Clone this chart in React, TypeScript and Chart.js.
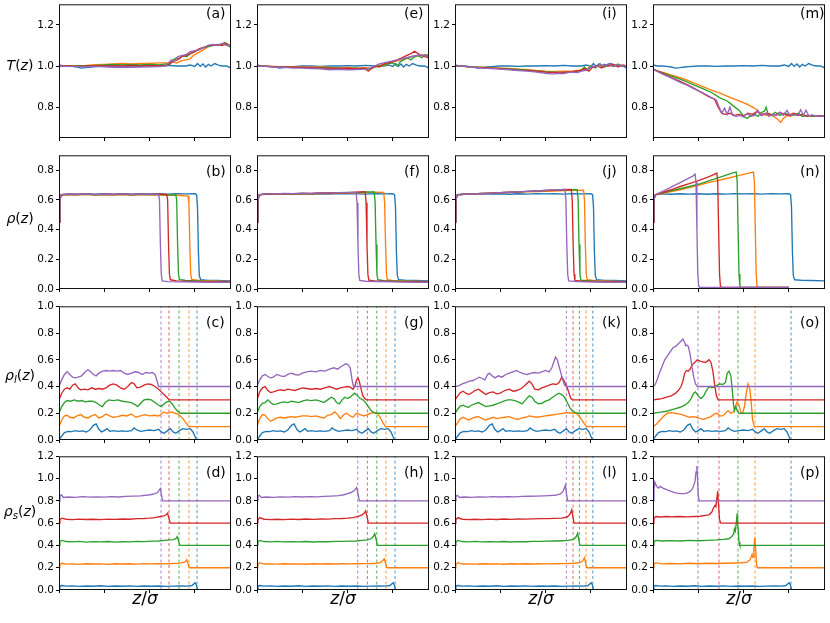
import React, { useEffect, useRef } from 'react';
import { Chart, registerables } from 'chart.js';

Chart.register(...registerables);

type P = [number, number][];

// ================= DATA (z/sigma, value) =================
// ---- Row 1 : T(z) ----
const BLUE_T: P = [[0,1.005],[5,1.0],[10,1.0],[15,0.998],[20,0.995],[25,0.99],[30,0.992],[35,0.995],[40,0.997],[50,1.0],[60,1.0],[70,0.998],[80,1.0],[90,1.0],[100,1.002],[110,1.0],[120,1.003],[130,1.0],[140,1.0],[145,1.005],[150,0.998],[153,1.012],[156,0.998],[159,1.01],[162,0.995],[165,1.008],[168,1.0],[172,1.012],[176,1.004],[180,1.0],[185,1.0],[190,0.99]];

const A_ORANGE: P = [[0,1.0],[10,1.0],[20,1.002],[30,1.003],[40,1.006],[50,1.008],[60,1.01],[70,1.012],[80,1.01],[90,1.013],[100,1.012],[110,1.015],[120,1.016],[125,1.02],[130,1.015],[135,1.025],[140,1.03],[145,1.035],[148,1.05],[152,1.06],[156,1.07],[160,1.08],[165,1.095],[170,1.1],[175,1.1],[180,1.105],[185,1.1],[190,1.1]];
const A_GREEN: P = [[0,1.0],[10,1.0],[20,1.0],[30,1.002],[40,1.003],[50,1.005],[60,1.008],[70,1.005],[80,1.008],[90,1.005],[100,1.008],[110,1.005],[118,1.01],[122,1.005],[126,1.03],[130,1.04],[133,1.035],[137,1.05],[141,1.045],[145,1.06],[150,1.07],[155,1.08],[160,1.09],[165,1.095],[170,1.1],[175,1.1],[180,1.105],[183,1.115],[186,1.1],[190,1.09]];
const A_RED: P = [[0,1.0],[10,1.0],[20,0.998],[30,1.0],[40,1.0],[50,1.0],[60,1.002],[70,1.0],[80,1.003],[90,1.0],[100,1.002],[110,1.0],[118,1.003],[122,1.01],[127,1.025],[131,1.03],[135,1.045],[140,1.05],[145,1.06],[150,1.07],[155,1.085],[160,1.09],[165,1.1],[170,1.1],[175,1.105],[180,1.1],[185,1.11],[190,1.095]];
const A_PURPLE: P = [[0,1.0],[10,0.998],[20,0.997],[30,0.996],[40,0.998],[50,0.996],[60,0.994],[70,0.995],[80,0.993],[90,0.995],[100,0.996],[110,0.997],[118,1.0],[121,1.015],[124,1.03],[127,1.02],[131,1.045],[135,1.05],[140,1.055],[145,1.07],[150,1.075],[155,1.08],[160,1.09],[165,1.1],[170,1.105],[175,1.1],[180,1.11],[185,1.1],[190,1.1]];

const E_ORANGE: P = [[0,1.0],[10,1.0],[20,0.998],[30,0.996],[40,0.995],[50,0.995],[60,0.994],[70,0.995],[80,0.993],[90,0.992],[100,0.993],[110,0.99],[120,0.992],[126,0.99],[130,0.998],[135,1.005],[140,1.0],[145,1.012],[150,1.02],[155,1.025],[160,1.03],[165,1.035],[170,1.045],[175,1.05],[180,1.05],[185,1.055],[190,1.05]];
const E_GREEN: P = [[0,1.0],[10,0.998],[20,0.995],[30,0.995],[40,0.993],[50,0.994],[60,0.99],[70,0.992],[80,0.99],[90,0.99],[100,0.988],[110,0.99],[120,0.987],[125,0.985],[130,0.995],[135,1.0],[140,1.005],[145,1.01],[150,1.015],[155,1.0],[158,1.02],[162,1.03],[166,1.04],[170,1.03],[174,1.045],[178,1.05],[182,1.04],[186,1.055],[190,1.05]];
const E_RED: P = [[0,1.0],[10,0.998],[20,0.996],[30,0.995],[40,0.994],[50,0.993],[60,0.992],[70,0.99],[80,0.99],[90,0.988],[100,0.99],[110,0.986],[118,0.99],[123,0.975],[127,0.99],[131,1.0],[135,0.995],[140,1.01],[145,1.015],[150,1.02],[155,1.03],[160,1.04],[165,1.05],[170,1.06],[174,1.072],[178,1.06],[182,1.05],[186,1.045],[190,1.04]];
const E_PURPLE: P = [[0,1.0],[10,0.998],[20,0.995],[30,0.993],[40,0.99],[50,0.99],[60,0.988],[70,0.986],[80,0.982],[90,0.984],[100,0.982],[110,0.983],[120,0.985],[125,0.99],[130,1.0],[135,1.01],[140,1.015],[145,1.02],[150,1.025],[155,1.03],[160,1.035],[165,1.04],[170,1.045],[175,1.05],[180,1.055],[185,1.05],[190,1.045]];

const I_ORANGE: P = [[0,1.0],[10,0.998],[20,0.995],[30,0.994],[40,0.992],[50,0.99],[60,0.988],[70,0.985],[80,0.982],[90,0.978],[100,0.975],[110,0.974],[120,0.975],[130,0.976],[138,0.98],[143,0.99],[146,0.985],[150,1.0],[155,0.995],[160,1.005],[165,0.995],[170,1.005],[175,1.0],[180,1.01],[185,0.998],[190,1.0]];
const I_GREEN: P = [[0,1.0],[10,0.998],[20,0.995],[30,0.993],[40,0.99],[50,0.988],[60,0.986],[70,0.983],[80,0.98],[90,0.976],[100,0.972],[110,0.97],[120,0.968],[128,0.97],[135,0.975],[140,0.98],[143,0.995],[146,0.98],[150,1.0],[155,0.99],[160,1.01],[165,0.995],[170,1.005],[175,0.998],[180,1.008],[185,1.0],[190,0.998]];
const I_RED: P = [[0,1.0],[10,0.998],[20,0.994],[30,0.992],[40,0.99],[50,0.987],[60,0.984],[70,0.98],[80,0.978],[90,0.975],[100,0.97],[110,0.968],[120,0.97],[130,0.972],[138,0.978],[144,0.985],[148,0.975],[152,0.995],[157,1.0],[162,0.99],[166,1.005],[170,1.0],[175,1.008],[180,0.995],[185,1.005],[190,1.0]];
const I_PURPLE: P = [[0,1.0],[10,0.998],[20,0.994],[30,0.99],[40,0.988],[50,0.985],[60,0.982],[70,0.978],[80,0.975],[90,0.97],[100,0.965],[105,0.962],[110,0.962],[115,0.965],[120,0.963],[125,0.968],[130,0.97],[135,0.968],[140,0.975],[145,0.98],[149,0.99],[152,1.0],[156,0.995],[160,1.01],[165,1.0],[170,1.012],[175,0.998],[180,1.005],[185,1.0],[190,0.998]];

const M_ORANGE: P = [[0,0.984],[10,0.97],[20,0.957],[30,0.943],[37,0.932],[45,0.918],[55,0.9],[65,0.882],[74,0.868],[85,0.848],[95,0.83],[105,0.812],[110,0.8],[114,0.79],[117,0.775],[120,0.77],[125,0.76],[130,0.765],[135,0.75],[138,0.74],[141,0.726],[144,0.745],[148,0.76],[152,0.755],[156,0.77],[160,0.76],[165,0.765],[170,0.755],[175,0.76],[180,0.755],[185,0.758],[190,0.755]];
const M_GREEN: P = [[0,0.984],[10,0.968],[20,0.952],[30,0.936],[37,0.924],[45,0.908],[55,0.89],[65,0.87],[74,0.845],[82,0.83],[89,0.805],[95,0.785],[101,0.752],[104,0.745],[108,0.76],[112,0.765],[116,0.755],[120,0.775],[123,0.78],[125,0.8],[127,0.77],[131,0.76],[135,0.775],[140,0.76],[145,0.77],[150,0.765],[155,0.76],[160,0.77],[165,0.755],[170,0.76],[175,0.755],[180,0.757],[185,0.755],[190,0.755]];
const M_RED: P = [[0,0.984],[10,0.965],[20,0.945],[30,0.925],[40,0.905],[50,0.88],[60,0.855],[68,0.838],[72,0.8],[76,0.77],[80,0.765],[85,0.77],[90,0.76],[95,0.765],[100,0.758],[105,0.77],[110,0.765],[115,0.78],[120,0.76],[125,0.77],[130,0.765],[135,0.76],[140,0.775],[145,0.765],[150,0.76],[155,0.77],[160,0.76],[165,0.765],[170,0.755],[175,0.76],[180,0.755],[185,0.758],[190,0.755]];
const M_PURPLE: P = [[0,0.984],[10,0.962],[20,0.942],[30,0.92],[37,0.908],[45,0.89],[55,0.87],[63,0.85],[70,0.835],[73,0.8],[76,0.77],[79,0.795],[82,0.765],[85,0.8],[88,0.76],[92,0.755],[96,0.76],[100,0.752],[104,0.77],[108,0.755],[112,0.76],[116,0.785],[119,0.76],[124,0.77],[128,0.755],[132,0.765],[136,0.758],[140,0.775],[144,0.76],[148,0.785],[151,0.76],[155,0.765],[160,0.758],[163,0.787],[166,0.76],[169,0.785],[172,0.758],[176,0.762],[180,0.755],[185,0.755],[190,0.757]];

// ---- Row 2 : rho(z) ----
const BLUE_RHO: P = [[0,0.45],[1,0.6],[2.5,0.636],[10,0.64],[20,0.638],[30,0.641],[40,0.639],[50,0.641],[60,0.638],[70,0.641],[80,0.639],[90,0.642],[100,0.64],[110,0.641],[120,0.639],[130,0.642],[140,0.64],[150,0.641],[152,0.635],[153,0.55],[154,0.25],[155,0.09],[156.5,0.062],[165,0.058],[175,0.057],[190,0.055]];

const B_ORANGE: P = [[0,0.45],[1,0.6],[2.5,0.632],[10,0.636],[20,0.634],[30,0.637],[40,0.633],[50,0.636],[60,0.632],[70,0.635],[80,0.633],[90,0.636],[100,0.632],[110,0.634],[120,0.63],[130,0.631],[138,0.628],[142.5,0.627],[143.5,0.58],[144.5,0.3],[145.5,0.1],[146.5,0.065],[155,0.058],[170,0.055],[190,0.05]];
const B_GREEN: P = [[0,0.45],[1,0.6],[2.5,0.633],[10,0.637],[20,0.635],[30,0.638],[40,0.634],[50,0.637],[60,0.635],[70,0.638],[80,0.634],[90,0.637],[100,0.635],[110,0.636],[120,0.634],[129,0.633],[130,0.6],[131,0.3],[132,0.1],[133,0.065],[140,0.057],[160,0.052],[190,0.048]];
const B_RED: P = [[0,0.45],[1,0.6],[2.5,0.634],[10,0.638],[20,0.636],[30,0.639],[40,0.635],[50,0.638],[60,0.636],[70,0.639],[80,0.636],[90,0.638],[100,0.637],[110,0.638],[119,0.636],[120,0.6],[121,0.3],[122,0.1],[123,0.062],[130,0.055],[160,0.05],[190,0.047]];
const B_PURPLE: P = [[0,0.45],[1,0.6],[2.5,0.635],[10,0.639],[20,0.637],[30,0.64],[40,0.636],[50,0.639],[60,0.637],[70,0.64],[80,0.637],[90,0.639],[100,0.638],[110,0.637],[111,0.6],[112,0.3],[113,0.1],[114,0.055],[120,0.05],[150,0.047],[190,0.045]];

const F_ORANGE: P = [[0,0.45],[1,0.6],[2.5,0.634],[10,0.638],[20,0.637],[30,0.64],[40,0.639],[50,0.642],[60,0.641],[70,0.644],[80,0.643],[90,0.646],[100,0.645],[110,0.648],[120,0.649],[130,0.652],[140,0.651],[141,0.58],[142,0.3],[143,0.1],[144,0.062],[150,0.056],[170,0.052],[190,0.05]];
const F_GREEN: P = [[0,0.45],[1,0.6],[2.5,0.634],[10,0.639],[20,0.638],[30,0.641],[40,0.64],[50,0.643],[60,0.642],[70,0.645],[80,0.645],[90,0.647],[100,0.647],[110,0.65],[120,0.653],[129.5,0.654],[130.5,0.58],[131.5,0.3],[132.5,0.1],[133.5,0.062],[140,0.056],[160,0.052],[190,0.048]];
const F_RED: P = [[0,0.45],[1,0.6],[2.5,0.634],[10,0.64],[20,0.639],[30,0.642],[40,0.641],[50,0.644],[60,0.643],[70,0.646],[80,0.646],[90,0.648],[100,0.648],[110,0.652],[119.5,0.655],[120.5,0.58],[121.5,0.3],[122.5,0.1],[123.5,0.06],[130,0.055],[160,0.05],[190,0.047]];
const F_PURPLE: P = [[0,0.45],[1,0.6],[2.5,0.635],[10,0.64],[20,0.64],[30,0.643],[40,0.642],[50,0.645],[60,0.644],[70,0.647],[80,0.647],[90,0.649],[100,0.65],[109.5,0.652],[110.5,0.58],[111.5,0.3],[112.5,0.1],[113.5,0.058],[120,0.052],[150,0.048],[190,0.045]];

const J_ORANGE: P = [[0,0.45],[1,0.6],[2.5,0.634],[10,0.638],[20,0.64],[30,0.642],[40,0.644],[50,0.647],[60,0.649],[70,0.652],[80,0.654],[90,0.656],[100,0.658],[110,0.66],[120,0.662],[130,0.664],[142,0.665],[143,0.6],[144,0.3],[145,0.1],[146,0.062],[155,0.056],[170,0.053],[190,0.05]];
const J_GREEN: P = [[0,0.45],[1,0.6],[2.5,0.634],[10,0.638],[20,0.64],[30,0.643],[40,0.645],[50,0.648],[60,0.651],[70,0.654],[80,0.657],[90,0.66],[100,0.663],[110,0.665],[120,0.667],[130,0.668],[135,0.669],[136,0.6],[137,0.3],[138,0.1],[139,0.06],[150,0.054],[170,0.05],[190,0.048]];
const J_RED: P = [[0,0.45],[1,0.6],[2.5,0.634],[10,0.638],[20,0.64],[30,0.643],[40,0.645],[50,0.648],[60,0.651],[70,0.654],[80,0.657],[90,0.66],[100,0.663],[110,0.666],[120,0.668],[128.5,0.67],[129.5,0.6],[130.5,0.3],[131.5,0.1],[132.5,0.058],[140,0.052],[165,0.049],[190,0.047]];
const J_PURPLE: P = [[0,0.45],[1,0.6],[2.5,0.634],[10,0.638],[20,0.64],[30,0.643],[40,0.645],[50,0.648],[60,0.651],[70,0.654],[80,0.657],[90,0.66],[100,0.664],[110,0.667],[118,0.67],[121.5,0.672],[122.5,0.6],[123.5,0.3],[124.5,0.1],[125.5,0.055],[135,0.05],[160,0.047],[190,0.045]];

const N_ORANGE: P = [[0,0.45],[1,0.6],[2.5,0.634],[10,0.642],[20,0.655],[30,0.668],[40,0.682],[50,0.698],[60,0.714],[70,0.728],[80,0.742],[90,0.757],[100,0.772],[107,0.782],[111,0.787],[112,0.72],[113,0.4],[114,0.1],[115,0.018],[116.5,0.01],[150,0.01]];
const N_GREEN: P = [[0,0.45],[1,0.6],[2.5,0.634],[10,0.645],[20,0.66],[30,0.675],[40,0.69],[50,0.705],[60,0.725],[70,0.745],[80,0.765],[88,0.782],[92,0.787],[93,0.72],[94,0.4],[95,0.1],[96,0.018],[97.5,0.01],[150,0.01]];
const N_RED: P = [[0,0.45],[1,0.6],[2.5,0.634],[10,0.648],[20,0.668],[30,0.69],[40,0.71],[50,0.73],[60,0.752],[67,0.77],[70.5,0.78],[71.5,0.72],[72.5,0.4],[73.5,0.1],[74.5,0.018],[76,0.01],[150,0.01]];
const N_PURPLE: P = [[0,0.45],[1,0.6],[2.5,0.634],[10,0.656],[20,0.686],[30,0.716],[40,0.748],[44,0.76],[46.5,0.773],[47.5,0.72],[48.5,0.4],[49.5,0.1],[50.5,0.018],[52,0.01],[150,0.01]];

// ---- Row 3 : rho_l(z) (shifted by 0.1 per curve) ----
const BLUE_RL: P = [[0,0],[3,0.03],[6,0.055],[10,0.065],[14,0.063],[18,0.07],[22,0.065],[26,0.068],[30,0.06],[34,0.075],[38,0.11],[41,0.12],[44,0.08],[47,0.06],[50,0.07],[53,0.085],[56,0.065],[60,0.07],[65,0.065],[70,0.068],[75,0.065],[80,0.07],[83,0.09],[86,0.075],[90,0.065],[95,0.07],[100,0.075],[105,0.07],[110,0.08],[113,0.06],[116,0.05],[120,0.07],[123,0.085],[126,0.06],[129,0.05],[133,0.07],[137,0.085],[141,0.08],[145,0.085],[148,0.06],[150,0.03],[152,0]];

const C_ORANGE: P = [[0,0.1],[3,0.15],[6,0.18],[9,0.185],[12,0.17],[16,0.165],[20,0.18],[24,0.19],[28,0.17],[32,0.165],[36,0.18],[40,0.19],[44,0.165],[48,0.175],[52,0.195],[56,0.18],[60,0.17],[65,0.175],[70,0.185],[75,0.18],[80,0.195],[85,0.17],[90,0.18],[95,0.19],[100,0.18],[105,0.185],[110,0.18],[113,0.195],[116,0.21],[119,0.2],[122,0.205],[125,0.21],[128,0.2],[131,0.195],[134,0.18],[137,0.16],[140,0.13],[143,0.105],[145,0.1],[190,0.1]];
const C_GREEN: P = [[0,0.2],[3,0.25],[6,0.28],[9,0.295],[13,0.29],[17,0.3],[21,0.29],[25,0.295],[29,0.285],[33,0.29],[37,0.29],[41,0.28],[45,0.26],[48,0.25],[51,0.28],[55,0.3],[60,0.295],[65,0.3],[70,0.29],[75,0.285],[80,0.28],[84,0.265],[87,0.25],[90,0.275],[94,0.3],[98,0.305],[102,0.3],[106,0.28],[110,0.26],[113,0.25],[116,0.27],[119,0.285],[122,0.29],[125,0.27],[128,0.24],[131,0.215],[134,0.2],[190,0.2]];
const C_RED: P = [[0,0.3],[3,0.35],[6,0.38],[9,0.39],[12,0.38],[15,0.41],[18,0.42],[21,0.39],[24,0.375],[28,0.38],[32,0.375],[36,0.39],[40,0.38],[44,0.385],[48,0.38],[52,0.39],[56,0.41],[60,0.42],[64,0.41],[68,0.39],[72,0.38],[76,0.4],[80,0.43],[83,0.42],[86,0.39],[90,0.395],[94,0.41],[98,0.42],[102,0.415],[106,0.4],[110,0.38],[113,0.36],[116,0.34],[119,0.32],[122,0.3],[190,0.3]];
const C_PURPLE: P = [[0,0.4],[3,0.45],[6,0.49],[9,0.51],[12,0.49],[15,0.47],[18,0.465],[21,0.47],[25,0.48],[29,0.51],[32,0.525],[35,0.51],[38,0.49],[41,0.48],[44,0.5],[48,0.515],[52,0.52],[56,0.515],[60,0.52],[64,0.515],[68,0.52],[72,0.5],[76,0.49],[80,0.5],[84,0.51],[88,0.505],[92,0.49],[96,0.505],[100,0.5],[103,0.505],[106,0.49],[108,0.45],[110,0.4],[190,0.4]];

const G_ORANGE: P = [[0,0.1],[3,0.16],[6,0.19],[9,0.185],[12,0.16],[15,0.14],[18,0.15],[22,0.165],[26,0.17],[30,0.165],[34,0.17],[38,0.175],[42,0.17],[46,0.175],[50,0.18],[55,0.18],[60,0.175],[65,0.18],[70,0.17],[74,0.165],[78,0.185],[82,0.19],[86,0.21],[89,0.19],[92,0.16],[96,0.19],[99,0.2],[103,0.18],[106,0.17],[110,0.2],[114,0.19],[118,0.18],[122,0.19],[126,0.2],[130,0.205],[133,0.2],[136,0.17],[139,0.13],[142,0.1],[190,0.1]];
const G_GREEN: P = [[0,0.2],[3,0.25],[6,0.275],[9,0.28],[12,0.3],[15,0.28],[18,0.265],[22,0.27],[26,0.28],[30,0.285],[34,0.28],[38,0.29],[42,0.285],[46,0.28],[50,0.29],[55,0.3],[60,0.295],[65,0.3],[70,0.29],[74,0.28],[78,0.3],[82,0.32],[85,0.31],[88,0.28],[91,0.27],[94,0.3],[97,0.32],[100,0.31],[103,0.32],[106,0.34],[108,0.35],[111,0.33],[114,0.31],[117,0.3],[120,0.28],[123,0.25],[126,0.22],[129,0.205],[132,0.2],[190,0.2]];
const G_RED: P = [[0,0.3],[3,0.36],[6,0.39],[9,0.4],[12,0.37],[15,0.355],[18,0.36],[22,0.37],[26,0.375],[30,0.37],[34,0.38],[38,0.375],[42,0.37],[46,0.38],[50,0.39],[55,0.385],[60,0.38],[65,0.385],[70,0.38],[75,0.39],[80,0.4],[84,0.39],[88,0.38],[92,0.39],[96,0.395],[100,0.4],[103,0.395],[106,0.38],[108,0.4],[110,0.45],[111.5,0.465],[113,0.44],[115,0.38],[117,0.33],[119,0.31],[121,0.3],[190,0.3]];
const G_PURPLE: P = [[0,0.4],[3,0.45],[6,0.48],[9,0.49],[12,0.475],[15,0.465],[18,0.47],[22,0.49],[26,0.48],[30,0.475],[34,0.49],[38,0.5],[42,0.49],[46,0.485],[50,0.5],[55,0.51],[60,0.515],[65,0.51],[70,0.52],[75,0.515],[80,0.53],[85,0.54],[89,0.53],[93,0.55],[97,0.565],[99,0.57],[101,0.56],[103,0.54],[105,0.45],[106.5,0.4],[190,0.4]];

const K_ORANGE: P = [[0,0.1],[3,0.13],[6,0.16],[9,0.17],[12,0.16],[15,0.15],[18,0.16],[22,0.17],[26,0.175],[30,0.16],[34,0.15],[38,0.16],[42,0.17],[46,0.16],[50,0.165],[55,0.17],[60,0.175],[65,0.16],[70,0.155],[74,0.165],[78,0.17],[82,0.18],[86,0.175],[90,0.17],[95,0.175],[100,0.18],[105,0.185],[110,0.19],[115,0.195],[120,0.2],[125,0.205],[130,0.2],[134,0.2],[137,0.18],[140,0.15],[143,0.12],[146,0.1],[190,0.1]];
const K_GREEN: P = [[0,0.2],[3,0.23],[6,0.255],[9,0.26],[12,0.25],[15,0.245],[18,0.26],[22,0.27],[26,0.28],[30,0.265],[34,0.25],[38,0.255],[42,0.26],[46,0.27],[50,0.28],[54,0.29],[58,0.3],[62,0.3],[66,0.295],[70,0.285],[74,0.27],[78,0.3],[82,0.33],[85,0.32],[88,0.29],[92,0.27],[96,0.275],[100,0.29],[104,0.3],[108,0.32],[112,0.34],[115,0.35],[118,0.34],[121,0.32],[124,0.28],[127,0.24],[130,0.215],[133,0.205],[136,0.2],[190,0.2]];
const K_RED: P = [[0,0.3],[3,0.33],[6,0.355],[9,0.365],[12,0.35],[15,0.34],[18,0.35],[22,0.37],[26,0.38],[30,0.36],[34,0.34],[38,0.355],[42,0.36],[46,0.345],[50,0.35],[55,0.37],[60,0.38],[64,0.365],[68,0.37],[72,0.38],[76,0.4],[79,0.42],[82,0.44],[85,0.42],[88,0.38],[92,0.375],[96,0.39],[100,0.4],[104,0.41],[108,0.42],[112,0.415],[115,0.43],[118,0.47],[120,0.45],[122,0.42],[124,0.39],[126,0.35],[128,0.31],[130,0.3],[190,0.3]];
const K_PURPLE: P = [[0,0.4],[4,0.405],[8,0.42],[12,0.43],[16,0.44],[20,0.445],[24,0.46],[27,0.47],[30,0.46],[33,0.45],[36,0.49],[38,0.5],[41,0.48],[44,0.465],[48,0.48],[52,0.47],[56,0.49],[60,0.5],[64,0.51],[68,0.52],[72,0.505],[76,0.495],[80,0.49],[84,0.5],[88,0.505],[92,0.5],[96,0.51],[100,0.52],[104,0.51],[107,0.54],[109,0.58],[111,0.62],[113,0.6],[115,0.55],[117,0.5],[119,0.45],[121,0.41],[123,0.4],[190,0.4]];

const O_ORANGE: P = [[0,0.1],[4,0.12],[8,0.15],[12,0.18],[16,0.2],[20,0.205],[24,0.2],[28,0.195],[32,0.19],[36,0.18],[40,0.17],[44,0.175],[48,0.17],[52,0.16],[56,0.155],[60,0.165],[64,0.175],[68,0.195],[71,0.2],[74,0.18],[77,0.18],[80,0.2],[83,0.22],[86,0.2],[89,0.21],[91,0.25],[93,0.285],[95,0.26],[97,0.21],[99,0.2],[101,0.25],[103,0.35],[105,0.42],[107,0.38],[108.5,0.28],[110,0.15],[112,0.1],[190,0.1]];
const O_GREEN: P = [[0,0.2],[5,0.205],[10,0.21],[15,0.215],[20,0.225],[25,0.235],[30,0.245],[35,0.26],[39,0.28],[42,0.31],[45,0.35],[47,0.36],[50,0.33],[53,0.31],[56,0.33],[59,0.37],[62,0.4],[65,0.39],[68,0.395],[71,0.41],[74,0.42],[77,0.415],[80,0.43],[82,0.5],[84,0.515],[86,0.48],[87.5,0.38],[89,0.26],[90,0.22],[91.5,0.25],[93,0.22],[95,0.2],[190,0.2]];
const O_RED: P = [[0,0.3],[5,0.305],[10,0.31],[15,0.32],[20,0.33],[25,0.35],[28,0.37],[31,0.4],[33,0.44],[35,0.5],[37,0.52],[39,0.515],[41,0.53],[43,0.56],[46,0.58],[49,0.6],[52,0.59],[55,0.585],[58,0.58],[60,0.59],[62,0.6],[64,0.58],[66,0.52],[68,0.42],[70,0.33],[72,0.3],[190,0.3]];
const O_PURPLE: P = [[0,0.4],[2,0.41],[4,0.44],[7,0.5],[10,0.55],[13,0.6],[16,0.63],[19,0.66],[22,0.69],[25,0.7],[28,0.72],[31,0.74],[33,0.755],[35,0.73],[36,0.705],[37.5,0.71],[39,0.7],[41,0.64],[43,0.55],[45,0.47],[47,0.42],[49,0.4],[190,0.4]];

// ---- Row 4 : rho_s(z) (shifted by 0.2 per curve) ----
const BLUE_RS: P = [[0,0],[1,0.035],[3,0.04],[8,0.035],[15,0.037],[22,0.033],[30,0.036],[38,0.034],[46,0.038],[54,0.033],[62,0.036],[70,0.034],[78,0.037],[86,0.033],[94,0.036],[102,0.034],[110,0.036],[118,0.033],[126,0.035],[134,0.037],[142,0.035],[147,0.04],[149,0.055],[150.5,0.065],[152,0.04],[153,0]];

const D_ORANGE: P = [[0,0.2],[1,0.23],[3,0.24],[8,0.232],[15,0.235],[22,0.23],[30,0.236],[38,0.233],[46,0.235],[54,0.23],[62,0.236],[70,0.233],[78,0.236],[86,0.232],[94,0.237],[102,0.234],[110,0.236],[118,0.235],[126,0.238],[132,0.24],[136,0.245],[139,0.25],[141,0.27],[142.5,0.24],[144,0.2],[190,0.2]];
const D_GREEN: P = [[0,0.4],[1,0.435],[3,0.445],[8,0.435],[15,0.432],[22,0.436],[30,0.43],[38,0.434],[46,0.432],[54,0.435],[62,0.43],[70,0.433],[78,0.432],[86,0.436],[94,0.434],[102,0.438],[110,0.44],[116,0.445],[122,0.45],[126,0.452],[129,0.46],[130.6,0.48],[132,0.44],[133.5,0.4],[190,0.4]];
const D_RED: P = [[0,0.6],[1,0.63],[3,0.645],[8,0.635],[15,0.632],[22,0.636],[30,0.633],[38,0.635],[46,0.632],[54,0.636],[62,0.634],[70,0.637],[78,0.635],[86,0.64],[94,0.642],[100,0.645],[106,0.65],[112,0.66],[116,0.665],[118.5,0.675],[120,0.69],[121.5,0.64],[123,0.6],[190,0.6]];
const D_PURPLE: P = [[0,0.8],[1,0.84],[2.5,0.855],[5,0.83],[10,0.835],[18,0.832],[26,0.838],[34,0.834],[42,0.836],[50,0.833],[58,0.838],[66,0.835],[74,0.84],[82,0.842],[90,0.845],[96,0.85],[102,0.857],[106,0.865],[109,0.875],[111,0.9],[112,0.91],[113,0.86],[114.5,0.8],[190,0.8]];

const H_ORANGE: P = [[0,0.2],[1,0.23],[3,0.245],[8,0.233],[15,0.235],[22,0.232],[30,0.236],[38,0.233],[46,0.235],[54,0.231],[62,0.236],[70,0.233],[78,0.236],[86,0.233],[94,0.236],[102,0.235],[110,0.236],[118,0.237],[126,0.238],[132,0.24],[136,0.245],[139,0.265],[140.6,0.28],[142,0.24],[143.5,0.2],[190,0.2]];
const H_GREEN: P = [[0,0.4],[1,0.43],[3,0.445],[8,0.435],[15,0.432],[22,0.436],[30,0.432],[38,0.434],[46,0.432],[54,0.435],[62,0.431],[70,0.434],[78,0.433],[86,0.436],[94,0.436],[102,0.438],[110,0.44],[116,0.445],[122,0.45],[126,0.46],[128.5,0.48],[130,0.505],[131.5,0.46],[133,0.4],[190,0.4]];
const H_RED: P = [[0,0.6],[1,0.63],[3,0.65],[8,0.635],[15,0.632],[22,0.635],[30,0.632],[38,0.636],[46,0.633],[54,0.637],[62,0.634],[70,0.637],[78,0.636],[86,0.64],[94,0.642],[100,0.645],[106,0.65],[112,0.66],[116,0.675],[118.5,0.69],[120,0.71],[121.5,0.66],[123,0.6],[190,0.6]];
const H_PURPLE: P = [[0,0.8],[1,0.84],[2.5,0.85],[5,0.83],[10,0.835],[18,0.832],[26,0.836],[34,0.833],[42,0.838],[50,0.835],[58,0.838],[66,0.836],[74,0.84],[82,0.843],[90,0.847],[96,0.855],[100,0.865],[104,0.875],[107,0.89],[109,0.91],[110,0.92],[111.5,0.87],[113,0.8],[190,0.8]];

const L_ORANGE: P = [[0,0.2],[1,0.23],[3,0.245],[8,0.233],[15,0.235],[22,0.232],[30,0.236],[38,0.233],[46,0.235],[54,0.231],[62,0.236],[70,0.233],[78,0.236],[86,0.233],[94,0.236],[102,0.235],[110,0.236],[118,0.237],[126,0.238],[132,0.24],[138,0.245],[141,0.26],[143,0.29],[144,0.25],[145.5,0.2],[190,0.2]];
const L_GREEN: P = [[0,0.4],[1,0.43],[3,0.445],[8,0.435],[15,0.432],[22,0.436],[30,0.432],[38,0.434],[46,0.432],[54,0.435],[62,0.431],[70,0.434],[78,0.433],[86,0.436],[94,0.436],[102,0.438],[110,0.44],[118,0.442],[125,0.445],[131,0.455],[134,0.48],[135.5,0.51],[136.5,0.46],[138,0.4],[190,0.4]];
const L_RED: P = [[0,0.6],[1,0.63],[3,0.65],[8,0.635],[15,0.632],[22,0.635],[30,0.632],[38,0.636],[46,0.633],[54,0.637],[62,0.634],[70,0.637],[78,0.636],[86,0.638],[94,0.64],[102,0.641],[110,0.643],[118,0.645],[124,0.655],[127,0.68],[129,0.72],[130,0.67],[131.5,0.6],[190,0.6]];
const L_PURPLE: P = [[0,0.8],[1,0.84],[2.5,0.85],[5,0.83],[10,0.835],[18,0.832],[26,0.836],[34,0.833],[42,0.838],[50,0.835],[58,0.838],[66,0.836],[74,0.84],[82,0.841],[90,0.843],[98,0.845],[104,0.847],[110,0.85],[116,0.86],[119,0.88],[121,0.92],[122,0.94],[123,0.87],[124.5,0.8],[190,0.8]];

const P_ORANGE: P = [[0,0.2],[1,0.23],[3,0.245],[10,0.235],[20,0.238],[30,0.235],[40,0.24],[50,0.236],[60,0.24],[70,0.238],[80,0.24],[90,0.242],[98,0.245],[104,0.25],[107,0.27],[108.5,0.3],[109.5,0.32],[110.5,0.29],[111.5,0.38],[112.5,0.472],[113.5,0.35],[114.5,0.22],[115.5,0.2],[190,0.2]];
const P_GREEN: P = [[0,0.4],[1,0.43],[3,0.445],[10,0.44],[20,0.443],[30,0.44],[40,0.445],[50,0.442],[60,0.446],[70,0.45],[78,0.455],[84,0.46],[87,0.48],[89,0.5],[90,0.55],[91,0.53],[92,0.6],[93,0.689],[94,0.55],[95,0.43],[96,0.4],[190,0.4]];
const P_RED: P = [[0,0.6],[1,0.64],[3,0.66],[8,0.655],[15,0.66],[22,0.657],[30,0.66],[38,0.656],[46,0.66],[52,0.662],[58,0.67],[62,0.675],[65,0.7],[67,0.74],[68.5,0.76],[69.5,0.75],[70.5,0.82],[71.5,0.887],[72.5,0.75],[73.5,0.63],[75,0.6],[190,0.6]];
const P_PURPLE: P = [[0,0.8],[1,0.9],[2,0.968],[4,0.93],[6,0.915],[8,0.93],[11,0.915],[15,0.9],[20,0.885],[25,0.872],[30,0.865],[35,0.865],[38,0.872],[41,0.885],[43,0.9],[44.5,0.93],[45.5,0.95],[46.5,0.98],[47.5,1.06],[48.5,1.113],[49.3,0.98],[50,0.85],[51,0.8],[190,0.8]];

// interface positions (dashed lines), order: blue, orange, green, red, purple
const FRONTS_COL1 = [152.5, 143.6, 132.6, 121.5, 112.7];
const FRONTS_COL2 = [152.5, 142.5, 132.3, 121.9, 111.3];
const FRONTS_COL3 = [152.2, 144.8, 137.4, 130.4, 123.0];
const FRONTS_COL4 = [152.5, 112.7, 93.9, 72.9, 49.7];

const Z_RANGE = [0, 190];
const ROW_Y_RANGE = [[0.65, 1.3], [0, 0.9], [0, 1.0], [0, 1.2]];

// ================= TABLES built from the arrays =================
const SERIES: P[][][] = [
  [[BLUE_T, A_ORANGE, A_GREEN, A_RED, A_PURPLE], [BLUE_T, E_ORANGE, E_GREEN, E_RED, E_PURPLE], [BLUE_T, I_ORANGE, I_GREEN, I_RED, I_PURPLE], [BLUE_T, M_ORANGE, M_GREEN, M_RED, M_PURPLE]],
  [[BLUE_RHO, B_ORANGE, B_GREEN, B_RED, B_PURPLE], [BLUE_RHO, F_ORANGE, F_GREEN, F_RED, F_PURPLE], [BLUE_RHO, J_ORANGE, J_GREEN, J_RED, J_PURPLE], [BLUE_RHO, N_ORANGE, N_GREEN, N_RED, N_PURPLE]],
  [[BLUE_RL, C_ORANGE, C_GREEN, C_RED, C_PURPLE], [BLUE_RL, G_ORANGE, G_GREEN, G_RED, G_PURPLE], [BLUE_RL, K_ORANGE, K_GREEN, K_RED, K_PURPLE], [BLUE_RL, O_ORANGE, O_GREEN, O_RED, O_PURPLE]],
  [[BLUE_RS, D_ORANGE, D_GREEN, D_RED, D_PURPLE], [BLUE_RS, H_ORANGE, H_GREEN, H_RED, H_PURPLE], [BLUE_RS, L_ORANGE, L_GREEN, L_RED, L_PURPLE], [BLUE_RS, P_ORANGE, P_GREEN, P_RED, P_PURPLE]],
];
const FRONTS = [FRONTS_COL1, FRONTS_COL2, FRONTS_COL3, FRONTS_COL4];

const COLORS = ['#1f77b4', '#ff7f0e', '#2ca02c', '#d62728', '#9467bd'];
const DASH_COLORS = ['rgba(31,119,180,0.55)', 'rgba(255,127,14,0.8)', 'rgba(44,160,44,0.8)', 'rgba(214,39,40,0.7)', 'rgba(148,103,189,0.8)'];

// ================= layout =================
const COL_LEFT = [59, 257, 455, 653];
const ROW_TOP = [4, 155, 306, 456];
const PLOT_W = 172;
const PLOT_H = 134;
const Y_W = 28;
const PAD_T = 8;
const PAD_R = 3;
const X_H = 5;
const PAD_B = 4;
const FONT = '"DejaVu Sans", sans-serif';

function decor(label: string, dy: number) {
  return {
    id: 'decor',
    afterDatasetsDraw(chart: any) {
      const { ctx, chartArea: a } = chart;
      ctx.save();
      ctx.strokeStyle = '#111';
      ctx.lineWidth = 1;
      ctx.strokeRect(a.left + 0.5, a.top + 0.5, a.right - a.left - 1, a.bottom - a.top - 1);
      ctx.fillStyle = '#000';
      ctx.font = '14px ' + FONT;
      ctx.textAlign = 'left';
      ctx.textBaseline = 'middle';
      ctx.fillText(label, a.left + 147, a.top + dy);
      ctx.restore();
    },
  };
}

function buildConfig(col: number, row: number): any {
  const datasets: any[] = SERIES[row][col].map((pts, i) => ({
    data: pts.map(([x, y]) => ({ x, y })),
    borderColor: COLORS[i],
    borderWidth: 1.35,
    pointRadius: 0,
    fill: false,
    tension: 0,
    order: 5 - i,
  }));
  const [y0, y1] = ROW_Y_RANGE[row];
  if (row >= 2) {
    FRONTS[col].forEach((z, i) => {
      datasets.push({
        data: [{ x: z, y: y0 }, { x: z, y: y1 }],
        borderColor: DASH_COLORS[i],
        borderWidth: i === 0 ? 1.4 : 1,
        borderDash: [3, 2.5],
        pointRadius: 0,
        fill: false,
        order: 10 + i,
      });
    });
  }
  const label = '(' + String.fromCharCode(97 + col * 4 + row) + ')';
  return {
    type: 'line',
    data: { datasets },
    options: {
      animation: false,
      responsive: false,
      maintainAspectRatio: false,
      events: [],
      layout: { padding: { top: PAD_T, right: PAD_R, bottom: PAD_B, left: 0 } },
      plugins: { legend: { display: false }, tooltip: { enabled: false } },
      scales: {
        x: {
          type: 'linear',
          min: Z_RANGE[0],
          max: Z_RANGE[1],
          ticks: { stepSize: 50, includeBounds: false, callback: () => '' },
          grid: { display: true, drawOnChartArea: false, drawTicks: true, tickLength: 3, color: '#000' },
          border: { display: false },
          afterFit: (s: any) => { s.height = X_H; },
        },
        y: {
          type: 'linear',
          min: y0,
          max: y1,
          ticks: {
            stepSize: 0.2,
            includeBounds: false,
            color: '#000',
            padding: 2,
            font: { family: FONT, size: 10.5 },
            callback: (v: any) => Number(v).toFixed(1),
          },
          grid: { display: true, drawOnChartArea: false, drawTicks: true, tickLength: 3, color: '#000' },
          border: { display: false },
          afterFit: (s: any) => { s.width = Y_W; },
        },
      },
    },
    plugins: [decor(label, row === 0 ? 10 : 17)],
  };
}

function Panel({ col, row }: { col: number; row: number }) {
  const ref = useRef<HTMLCanvasElement>(null);
  const w = Y_W + PLOT_W + PAD_R;
  const h = PAD_T + PLOT_H + X_H + PAD_B;
  useEffect(() => {
    const chart = new Chart(ref.current as HTMLCanvasElement, buildConfig(col, row));
    return () => chart.destroy();
  }, [col, row]);
  return (
    <canvas
      ref={ref}
      width={w}
      height={h}
      style={{ position: 'absolute', left: COL_LEFT[col] - Y_W, top: ROW_TOP[row] - PAD_T, width: w, height: h }}
    />
  );
}

const labelStyle = (x: number, y: number): React.CSSProperties => ({
  position: 'absolute',
  left: x,
  top: y,
  transform: 'translate(-50%, -50%)',
  fontFamily: FONT,
  fontSize: 14,
  whiteSpace: 'nowrap',
  lineHeight: 1,
  color: '#000',
});

export default function App() {
  const cells: any[] = [];
  for (let r = 0; r < 4; r++) for (let c = 0; c < 4; c++) cells.push(<Panel key={r + '-' + c} col={c} row={r} />);
  return (
    <div style={{ position: 'fixed', left: 0, top: 0, width: 830, height: 623, background: '#fff', overflow: 'hidden' }}>
      {cells}
      <div style={labelStyle(20, 65)}><i>T</i>(<i>z</i>)</div>
      <div style={labelStyle(20, 218)}><i>ρ</i>(<i>z</i>)</div>
      <div style={labelStyle(20, 375)}><i>ρ</i><span style={{ fontSize: 10, fontStyle: 'italic', position: 'relative', top: 3 }}>l</span>(<i>z</i>)</div>
      <div style={labelStyle(20, 511)}><i>ρ</i><span style={{ fontSize: 10, fontStyle: 'italic', position: 'relative', top: 3 }}>s</span>(<i>z</i>)</div>
      {COL_LEFT.map((l, i) => (
        <div key={'xl' + i} style={{ ...labelStyle(l + PLOT_W / 2, 598), fontSize: 17 }}><i>z</i>/<i>σ</i></div>
      ))}
    </div>
  );
}
